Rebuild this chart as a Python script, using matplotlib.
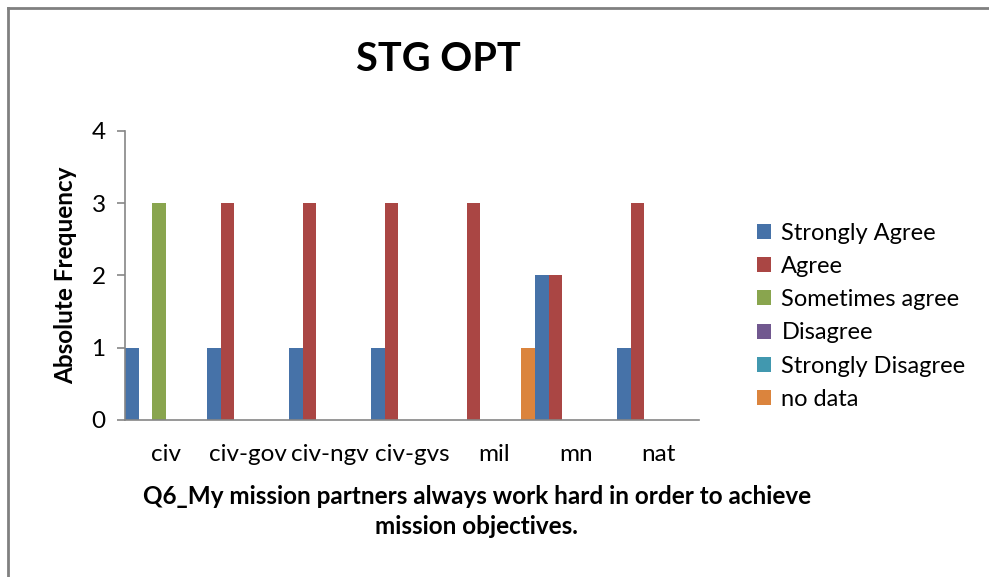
import matplotlib.pyplot as plt
import numpy as np
from matplotlib.lines import Line2D

categories = ["civ", "civ-gov", "civ-ngv", "civ-gvs", "mil", "mn", "nat"]
series_names = ["Strongly Agree", "Agree", "Sometimes agree", "Disagree",
                "Strongly Disagree", "no data"]
strongly_agree = [1, 1, 1, 1, 0, 2, 1]
agree = [0, 3, 3, 3, 3, 2, 3]
sometimes_agree = [3, 0, 0, 0, 0, 0, 0]
disagree = [0, 0, 0, 0, 0, 0, 0]
strongly_disagree = [0, 0, 0, 0, 0, 0, 0]
no_data = [0, 0, 0, 0, 1, 0, 0]
y_ticks = [0, 1, 2, 3, 4]

colors = ["#4672A8", "#AA4644", "#89A54E", "#71588F", "#4198AF", "#DB843D"]
values = [strongly_agree, agree, sometimes_agree, disagree,
          strongly_disagree, no_data]

plt.rcParams["font.family"] = ["Lato", "DejaVu Sans"]

fig = plt.figure(figsize=(9.89, 5.77), dpi=100)
ax = fig.add_axes([0.1264, 0.2721, 0.5804, 0.5009])

x = np.arange(len(categories))
width = 1 / len(series_names)
for i, (name, vals, col) in enumerate(zip(series_names, values, colors)):
    ax.bar(x - 0.5 + width * (i + 0.5), vals, width=width, color=col,
           label=name, edgecolor="none")

ax.set_xlim(-0.5, len(categories) - 0.5)
ax.set_ylim(0, 4)
ax.set_yticks(y_ticks)
ax.set_xticks(x)
ax.set_xticklabels(categories)
ax.tick_params(axis="y", length=6, width=1.2, color="#868686", pad=8,
               labelsize=17.5)
ax.tick_params(axis="x", length=0, pad=17, labelsize=17.5)

for side in ("top", "right"):
    ax.spines[side].set_visible(False)
for side in ("left", "bottom"):
    ax.spines[side].set_color("#868686")
    ax.spines[side].set_linewidth(1.2)

ax.set_ylabel("Absolute Frequency", fontsize=17.5, fontweight="bold",
              labelpad=10)

fig.text(0.443, 0.897, "STG OPT", ha="center", va="center", fontsize=28.5,
         fontweight="bold")
fig.text(0.482, 0.114,
         "Q6_My mission partners always work hard in order to achieve\nmission objectives.",
         ha="center", va="center", fontsize=17.5, fontweight="bold",
         linespacing=1.38)

ax.legend(loc="center left", bbox_to_anchor=(0.765, 0.452),
          bbox_transform=fig.transFigure, frameon=False, fontsize=17,
          handlelength=0.6, handleheight=0.6, handletextpad=0.45,
          labelspacing=0.52, borderaxespad=0, borderpad=0)

# outer chart frame
fig.add_artist(Line2D([8 / 989, 8 / 989], [0, 1 - 8 / 577],
                      transform=fig.transFigure, color="#808080", lw=2))
fig.add_artist(Line2D([8 / 989, 1], [1 - 8 / 577, 1 - 8 / 577],
                      transform=fig.transFigure, color="#808080", lw=2))

fig.savefig("out.png", dpi=100)
